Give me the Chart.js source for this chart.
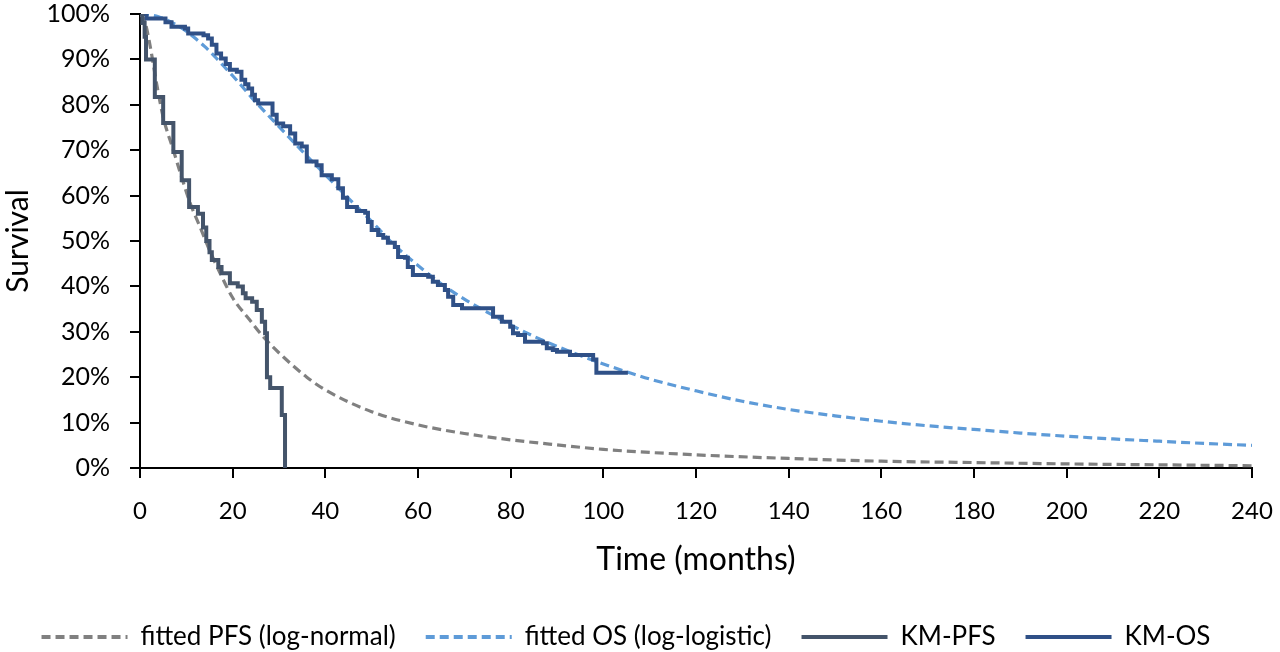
<!DOCTYPE html>
<html>
<head>
<meta charset="utf-8">
<script src="https://cdn.jsdelivr.net/npm/chart.js@4"></script>
<style>
  html, body { margin: 0; padding: 0; background: #fff; }
  #wrap { width: 1280px; height: 652px; }
</style>
</head>
<body>
<div id="wrap"><canvas id="myChart"></canvas></div>
<script>
// fitted curves (months, % surviving)
const pfsFitTime = [0, 1, 2, 3.7, 5, 7.2, 9, 10.8, 13, 15, 17.3, 20, 23.7, 26.6, 30.9, 36, 40, 50, 60, 70, 80, 90, 100, 120, 140, 160, 180, 200, 220, 240];
const pfsFitSurv = [100, 98.5, 94, 84, 77.3, 70, 64, 58.4, 53, 48, 42.9, 37.5, 32.6, 28.9, 24.5, 20, 17.2, 12.4, 9.5, 7.6, 6.2, 5.1, 4.1, 2.9, 2.1, 1.5, 1.2, 0.9, 0.7, 0.5];

const osFitTime = [0, 2, 4, 6, 8, 10, 12, 14, 16, 18, 20, 22, 24, 27, 30, 35, 40, 45, 50, 55, 60, 65, 70, 75, 80, 85, 90, 95, 100, 105, 110, 120, 130, 140, 150, 160, 170, 180, 190, 200, 210, 220, 230, 240];
const osFitSurv = [100, 99.8, 99.4, 98.6, 97.5, 96.2, 94.6, 92.8, 90.8, 88.6, 86.4, 84.1, 81.7, 78.4, 75.2, 69.8, 64.6, 59.4, 54.3, 49, 44.6, 40.6, 37.2, 34.3, 31.5, 29, 26.8, 24.8, 22.9, 21.2, 19.6, 17, 14.7, 12.9, 11.5, 10.3, 9.3, 8.5, 7.7, 7, 6.4, 5.9, 5.4, 5];

// Kaplan-Meier steps
const kmPfsTime = [0, 0.5, 1, 1.3, 3.2, 5, 7.2, 9, 10.6, 12.5, 13.6, 14.3, 15, 15.5, 16.9, 17.6, 19.4, 21.1, 22.2, 22.8, 24.2, 25.2, 26.3, 27, 27.4, 28.1, 30.6, 31.3];
const kmPfsSurv = [100, 98, 95, 90, 81.7, 76, 69.6, 63.4, 57.5, 56, 53, 50, 47.5, 45.8, 44.3, 42.9, 40.7, 40, 38.5, 37.4, 36.6, 34.8, 32.2, 29.7, 20, 17.6, 11.7, 0];

const kmOsTime = [0, 1.4, 5.5, 6.8, 9.7, 10.4, 13.7, 14.7, 15.5, 16.5, 17.5, 18.5, 19.4, 20.9, 21.9, 22.7, 23.4, 24.2, 24.8, 25.5, 28.6, 29.5, 30.9, 32.4, 33.5, 34.9, 36, 38.1, 39.2, 41.4, 42.8, 43.8, 44.7, 46.8, 48.6, 49.2, 50, 51.4, 52.5, 53.5, 55, 55.7, 57.2, 57.8, 58.9, 62.2, 63.2, 64.3, 65.8, 66.5, 67.6, 69.5, 76.2, 78.1, 79.9, 80.5, 81.6, 83.1, 87, 87.8, 89.1, 90, 92.8, 97.8, 98.5, 105.3];
const kmOsSurv = [100, 99, 98.2, 97.2, 96.8, 95.7, 95.3, 94.6, 93.2, 91.3, 90.2, 89, 87.7, 87.3, 85.5, 84.5, 83.6, 82.2, 81, 80.3, 77.8, 75.9, 75.3, 73.7, 71.5, 70.8, 67.5, 66.7, 64.5, 63.6, 61.6, 59.5, 57.5, 56.6, 56.2, 54.2, 52.4, 51.3, 50.7, 49.6, 48.7, 46.5, 46.3, 44.3, 42.5, 42.1, 41, 40.3, 39.2, 37.7, 35.9, 35.2, 33.3, 32.2, 31.1, 29.7, 29.3, 27.8, 27.5, 26.4, 26, 25.6, 24.9, 23.9, 21, 21];

const xTicks = [0, 20, 40, 60, 80, 100, 120, 140, 160, 180, 200, 220, 240];
const yTicks = [0, 10, 20, 30, 40, 50, 60, 70, 80, 90, 100];

function pts(t, s) {
  return t.map((x, i) => ({ x: x, y: s[i] }));
}

const FONT = 'Lato';
const ctx = document.getElementById('myChart');

new Chart(ctx, {
  type: 'line',
  data: {
    datasets: [
      {
        label: 'fitted PFS (log-normal)',
        data: pts(pfsFitTime, pfsFitSurv),
        borderColor: '#808080',
        backgroundColor: '#808080',
        borderWidth: 3.2,
        borderDash: [9, 5],
        cubicInterpolationMode: 'monotone',
        pointRadius: 0,
        order: 1
      },
      {
        label: 'fitted OS (log-logistic)',
        data: pts(osFitTime, osFitSurv),
        borderColor: '#5E9BD8',
        backgroundColor: '#5E9BD8',
        borderWidth: 3.2,
        borderDash: [9, 5],
        cubicInterpolationMode: 'monotone',
        pointRadius: 0,
        order: 1
      },
      {
        label: 'KM-PFS',
        data: pts(kmPfsTime, kmPfsSurv),
        borderColor: '#44546A',
        backgroundColor: '#44546A',
        borderWidth: 4,
        stepped: 'before',
        pointRadius: 0,
        order: 0
      },
      {
        label: 'KM-OS',
        data: pts(kmOsTime, kmOsSurv),
        borderColor: '#2F5087',
        backgroundColor: '#2F5087',
        borderWidth: 4,
        stepped: 'before',
        pointRadius: 0,
        order: 0
      }
    ]
  },
  options: {
    responsive: true,
    maintainAspectRatio: false,
    animation: false,
    layout: { padding: { top: 14, right: 28, left: 0, bottom: -8 } },
    plugins: {
      tooltip: { enabled: false },
      legend: {
        position: 'bottom',
        labels: {
          usePointStyle: true,
          pointStyle: 'line',
          pointStyleWidth: 86,
          padding: 30,
          color: '#000',
          font: { family: FONT, size: 26 },
          sort: (a, b) => a.datasetIndex - b.datasetIndex,
          generateLabels: chart => {
            const items = Chart.defaults.plugins.legend.labels.generateLabels(chart);
            items.forEach(it => {
              const ds = chart.data.datasets[it.datasetIndex];
              it.lineDash = ds.borderDash || [];
              it.lineWidth = 4;
              it.strokeStyle = ds.borderColor;
            });
            return items;
          }
        }
      }
    },
    scales: {
      x: {
        type: 'linear',
        min: 0,
        max: 240,
        afterBuildTicks: s => { s.ticks = xTicks.map(v => ({ value: v })); },
        afterFit: s => { s.height = 126; s.paddingRight = 28; s.paddingLeft = 0; },
        grid: { drawOnChartArea: false, color: '#000', lineWidth: 2, tickLength: 10 },
        border: { color: '#000', width: 2 },
        ticks: { color: '#000', padding: 19, font: { family: FONT, size: 24 }, maxRotation: 0 },
        title: {
          display: true,
          text: 'Time (months)',
          color: '#000',
          font: { family: FONT, size: 32 },
          padding: { top: 0, bottom: 15 }
        }
      },
      y: {
        min: 0,
        max: 100,
        afterBuildTicks: s => { s.ticks = yTicks.map(v => ({ value: v })); },
        afterFit: s => { s.width = 140; s.paddingTop = 14; s.paddingBottom = 0; },
        grid: { drawOnChartArea: false, color: '#000', lineWidth: 2, tickLength: 10 },
        border: { color: '#000', width: 2 },
        ticks: { color: '#000', padding: 20, font: { family: FONT, size: 25 }, callback: v => v + '%' },
        title: {
          display: true,
          text: 'Survival',
          color: '#000',
          font: { family: FONT, size: 30 },
          padding: 0
        }
      }
    }
  }
});
</script>
</body>
</html>
